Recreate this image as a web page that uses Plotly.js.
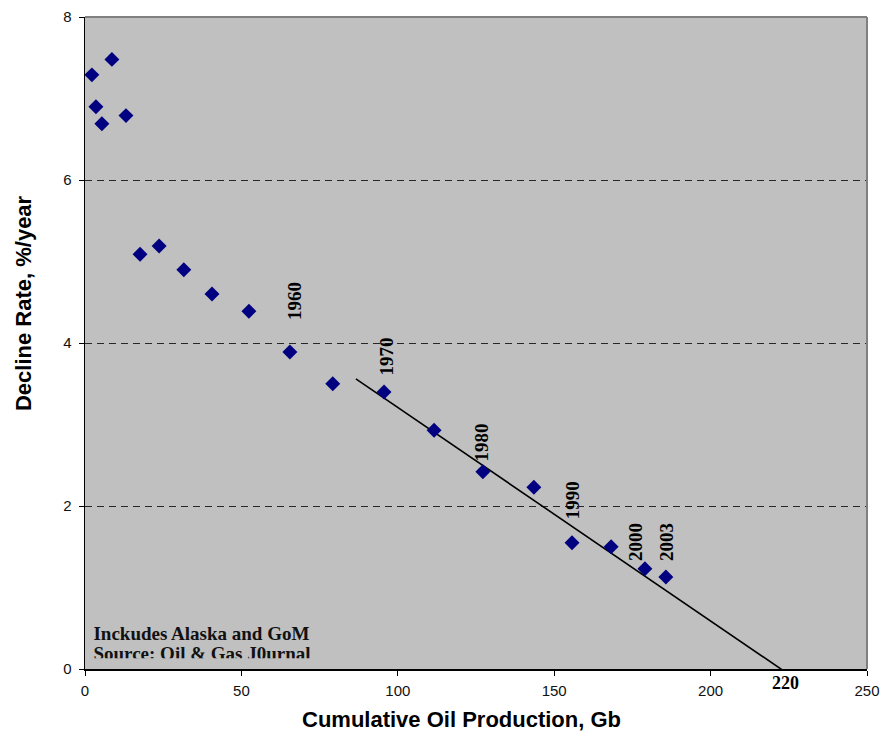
<!DOCTYPE html>
<html><head><meta charset="utf-8">
<script src="https://cdn.plot.ly/plotly-3.0.1.min.js"></script>
<style>body{margin:0;background:#fff}#c{width:885px;height:738px}</style>
</head><body><div id="c"></div>
<script>
var cumProd = [2.2, 3.5, 5.4, 8.6, 13.1, 17.6, 23.7, 31.6, 40.6, 52.4, 65.5, 79.2, 95.6, 111.6, 127.2, 143.5, 155.7, 168.2, 179.0, 185.7];
var declineRate = [7.29, 6.9, 6.69, 7.48, 6.79, 5.09, 5.19, 4.9, 4.6, 4.39, 3.89, 3.5, 3.4, 2.93, 2.42, 2.23, 1.55, 1.5, 1.23, 1.13];
var trendX = [86.6, 226.3];
var trendY = [3.56, -0.1];
var yearLabels = ['1960', '1970', '1980', '1990', '2000', '2003'];
var yearX = [67.0, 96.4, 126.6, 155.7, 176.2, 186.1];
var yearY = [4.51, 3.83, 2.78, 2.07, 1.56, 1.56];
var noteLines = ['Inckudes Alaska and GoM', 'Source: Oil & Gas J0urnal'];
var noteX = [2.7, 2.7];
var noteY = [0.417, 0.172];
var xTicks = [0, 50, 100, 150, 200, 250];
var yTicks = [0, 2, 4, 6, 8];

var serif = 'Liberation Serif, Times New Roman, serif';
var sans = 'Liberation Sans, Arial, sans-serif';

var traces = [
  {x: trendX, y: trendY, mode: 'lines', line: {color: '#000', width: 1.6}, hoverinfo: 'skip', showlegend: false},
  {x: cumProd, y: declineRate, mode: 'markers', type: 'scatter',
   marker: {symbol: 'diamond', size: 11.5, color: '#000080', line: {width: 0}}, showlegend: false, cliponaxis: false},
  {x: noteX, y: noteY, mode: 'text', text: noteLines,
   textposition: 'middle right', cliponaxis: true,
   textfont: {family: serif, size: 19, color: '#111', weight: 700}, showlegend: false, hoverinfo: 'skip'}
];

var ann = yearLabels.map(function(t, i){
  return {x: yearX[i], y: yearY[i], xref: 'x', yref: 'y', text: t, showarrow: false, textangle: -90,
    font: {family: serif, size: 19, color: '#000', weight: 'bold'}};
});
ann.push({x: 223.8, y: 0, xref: 'x', yref: 'y', yanchor: 'middle', yshift: -14, text: '220', showarrow: false,
  font: {family: serif, size: 18, color: '#000', weight: 'bold'}});
ann.push({x: 0.481, y: -0.0767, xref: 'paper', yref: 'paper', xanchor: 'center', yanchor: 'middle',
  text: 'Cumulative Oil Production, Gb', showarrow: false,
  font: {family: sans, size: 22, color: '#000', weight: 'bold'}});
ann.push({x: -0.0795, y: 0.561, xref: 'paper', yref: 'paper', xanchor: 'center', yanchor: 'middle', textangle: -90,
  text: 'Decline Rate, %/year', showarrow: false,
  font: {family: sans, size: 22, color: '#000', weight: 'bold'}});

var layout = {
  width: 885, height: 738,
  margin: {l: 85, r: 18, t: 17, b: 69},
  paper_bgcolor: '#fff', plot_bgcolor: '#C0C0C0',
  showlegend: false,
  xaxis: {range: [0, 250], tickvals: xTicks, ticktext: xTicks.map(String), ticks: 'outside', ticklen: 5, tickcolor: '#000',
    showgrid: false, zeroline: false, showline: true, linecolor: '#000', linewidth: 1.5, ticklabelstandoff: 2,
    tickfont: {family: sans, size: 15, color: '#111'}},
  yaxis: {range: [0, 8], tickvals: yTicks, ticktext: yTicks.map(String), ticks: 'outside', ticklen: 5, tickcolor: '#000',
    showgrid: true, gridcolor: '#000', griddash: '7px,5px', gridwidth: 0.8, zeroline: false,
    showline: true, linecolor: '#000', linewidth: 1.5, ticklabelstandoff: 4,
    tickfont: {family: sans, size: 15, color: '#111'}},
  annotations: ann,
  shapes: [
    {type: 'rect', xref: 'paper', yref: 'paper', x0: 0.004, x1: 0.32, y0: 0.002, y1: 0.0164, layer: 'above',
     fillcolor: '#C0C0C0', line: {width: 0}},
    {type: 'line', xref: 'paper', yref: 'paper', x0: 0, x1: 1, y0: 1, y1: 1, line: {color: '#808080', width: 2}},
    {type: 'line', xref: 'paper', yref: 'paper', x0: 1, x1: 1, y0: 0, y1: 1, line: {color: '#808080', width: 2}}
  ]
};
Plotly.newPlot('c', traces, layout, {displayModeBar: false, staticPlot: true});
</script></body></html>
